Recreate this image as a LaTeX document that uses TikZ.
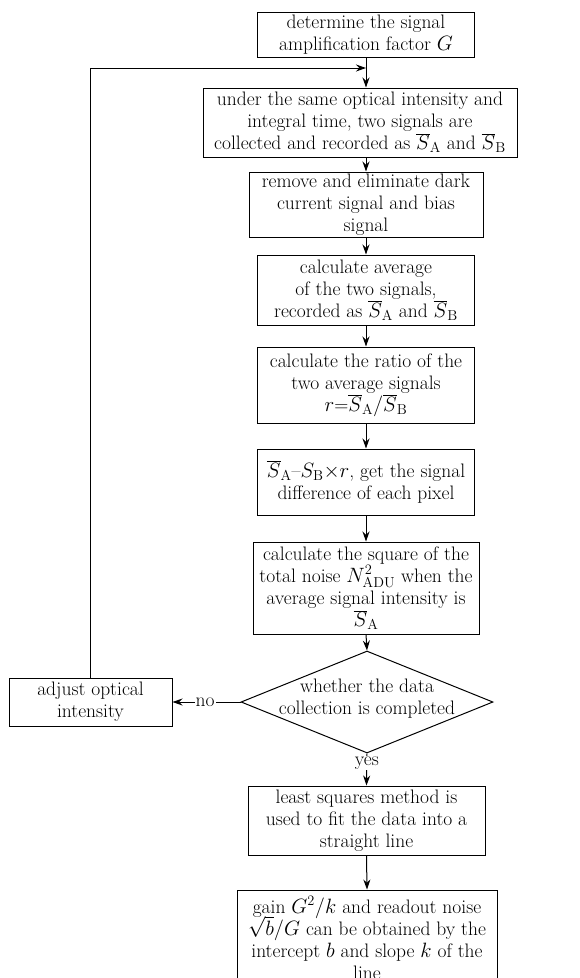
\documentclass[tikz,border=0pt]{standalone}
\usetikzlibrary{shapes.geometric,arrows.meta}
\newcommand\flowfs{\fontsize{19.5}{22}\selectfont}
\newcommand\bS{\overline{S}}
\begin{document}
\begin{tikzpicture}[x=1pt,y=-1pt,
  box/.style={draw, line width=1pt, align=center, inner sep=0pt, font=\flowfs},
  arr/.style={-{Stealth[length=10pt,width=7pt]}, line width=1pt},
  lbl/.style={fill=white, inner sep=1pt, font=\flowfs}]
\useasboundingbox (0,0) rectangle (579,978);
\node[box, minimum width=217, minimum height=45] (b1) at (366,34.5)
  {determine the signal\\amplification factor $G$};
\node[box, minimum width=314, minimum height=69] (b2) at (360,122.5)
  {under the same optical intensity and\\integral time, two signals are\\collected and recorded as $\bS_{\mathrm{A}}$ and $\bS_{\mathrm{B}}$};
\node[box, minimum width=234, minimum height=65] (b3) at (366,204.5)
  {remove and eliminate dark\\current signal and bias\\signal};
\node[box, minimum width=217, minimum height=70] (b4) at (366,290)
  {calculate average\\of the two signals,\\recorded as $\bS_{\mathrm{A}}$ and $\bS_{\mathrm{B}}$};
\node[box, minimum width=217, minimum height=76] (b5) at (366,385)
  {calculate the ratio of the\\two average signals\\$r$=$\bS_{\mathrm{A}}/\bS_{\mathrm{B}}$};
\node[box, minimum width=217, minimum height=66] (b6) at (366,482)
  {$\bS_{\mathrm{A}}$--$S_{\mathrm{B}}{\times}r$, get the signal\\difference of each pixel};
\node[box, minimum width=226, minimum height=92] (b7) at (366,588)
  {calculate the square of the\\total noise $N^2_{\mathrm{ADU}}$ when the\\average signal intensity is\\$\bS_{\mathrm{A}}$};
\node[draw, diamond, line width=1pt, minimum width=252, minimum height=102, inner sep=0pt,
  label={[font=\flowfs, align=center, yshift=3pt]center:whether the data\\collection is completed}] (d) at (367,702) {};
\node[box, minimum width=163, minimum height=48] (adj) at (90.5,702)
  {adjust optical\\intensity};
\node[box, minimum width=237, minimum height=69] (b8) at (366.5,820.5)
  {least squares method is\\used to fit the data into a\\straight line};
\node[box, minimum width=260, minimum height=96] (b9) at (367,938)
  {gain $G^2/k$ and readout noise\\$\smash{\sqrt{b}}/G$ can be obtained by the\\intercept $b$ and slope $k$ of the\\line};
\coordinate (j) at (366,68);
\draw[arr] (b1.south) -- (b1.south |- b2.north);
\draw[arr] (b1.south |- b2.south) -- (b3.north);
\draw[arr] (b3.south) -- (b4.north);
\draw[arr] (b4.south) -- (b5.north);
\draw[arr] (b5.south) -- (b6.north);
\draw[arr] (b6.south) -- (b7.north);
\draw[arr] (b7.south) -- (d.north);
\draw[arr] (d.west) -- node[lbl, pos=0.52] {no} (adj.east);
\draw[arr] (d.south) -- node[lbl, pos=0.3] {yes} (b8.north);
\draw[arr] (b8.south) -- (b9.north);
\draw[arr] (adj.north) |- (j);
\end{tikzpicture}
\end{document}
